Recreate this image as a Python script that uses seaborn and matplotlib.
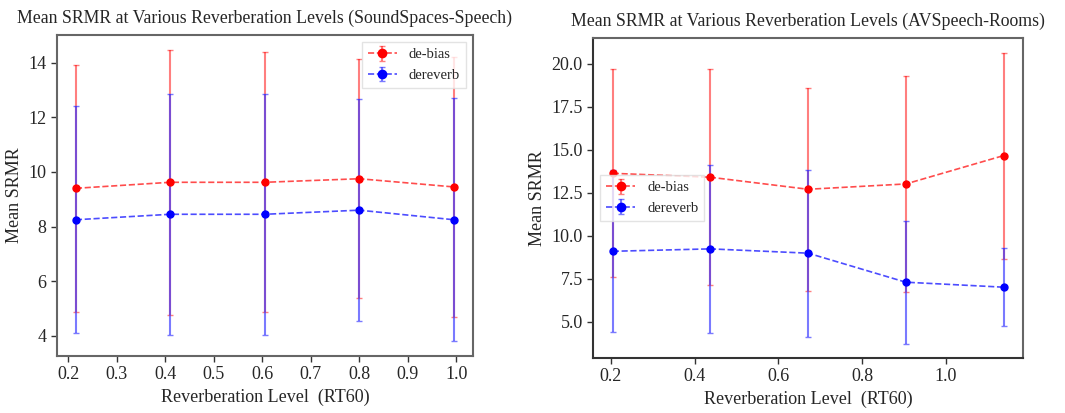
import matplotlib
matplotlib.use("Agg")
import matplotlib.pyplot as plt
import seaborn as sns
import pandas as pd

# SoundSpaces-Speech
ss_rt60 = [0.216, 0.41, 0.605, 0.80, 0.995]
ss_debias_mean = [9.40, 9.62, 9.62, 9.75, 9.45]
ss_debias_std = [4.52, 4.85, 4.75, 4.37, 4.75]
ss_dereverb_mean = [8.25, 8.45, 8.45, 8.60, 8.25]
ss_dereverb_std = [4.15, 4.40, 4.40, 4.07, 4.45]

# AVSpeech-Rooms
av_rt60 = [0.205, 0.438, 0.671, 0.904, 1.137]
av_debias_mean = [13.63, 13.40, 12.70, 13.01, 14.66]
av_debias_std = [6.05, 6.30, 5.92, 6.30, 6.00]
av_dereverb_mean = [9.09, 9.23, 8.98, 7.29, 7.00]
av_dereverb_std = [4.72, 4.88, 4.87, 3.57, 2.26]

titles = ["Mean SRMR at Various Reverberation Levels (SoundSpaces-Speech)",
          "Mean SRMR at Various Reverberation Levels (AVSpeech-Rooms)"]

sns.set_theme(style="ticks")
plt.rcParams["font.family"] = ["Liberation Serif", "DejaVu Serif"]

fig = plt.figure(figsize=(10.65, 4.13), dpi=100)
ax1 = fig.add_axes([0.0535, 0.138, 0.3905, 0.777])
ax2 = fig.add_axes([0.557, 0.133, 0.4036, 0.775])


def draw(ax, x, m1, s1, m2, s2, title, legend_loc):
    df = pd.DataFrame({"rt60": x, "debias": m1, "debias_std": s1,
                       "dereverb": m2, "dereverb_std": s2})
    ax.errorbar(df["rt60"], df["debias"], yerr=df["debias_std"], fmt="o--",
                color=(1, 0, 0, 0.7), mfc="red", mec="red",
                ecolor=(1, 0, 0, 0.5), elinewidth=1.5, capsize=2.5,
                markersize=5, linewidth=1.2, label="de-bias")
    ax.errorbar(df["rt60"], df["dereverb"], yerr=df["dereverb_std"], fmt="o--",
                color=(0, 0, 1, 0.7), mfc="blue", mec="blue",
                ecolor=(0.2, 0.2, 1, 0.65), elinewidth=1.5, capsize=2.5,
                markersize=5, linewidth=1.2, label="dereverb")
    ax.set_title(title, fontsize=12.8, pad=9)
    ax.set_xlabel("Reverberation Level  (RT60)", fontsize=13)
    ax.set_ylabel("Mean SRMR", fontsize=13)
    ax.tick_params(labelsize=13, length=4, width=1, color="#333333")
    for sp in ax.spines.values():
        sp.set_color("#666666")
        sp.set_linewidth(1.5)
    ax.legend(loc=legend_loc, fontsize=10.5, frameon=True, fancybox=False,
              edgecolor="#dddddd", handlelength=2.0, markerscale=1.2)


draw(ax1, ss_rt60, ss_debias_mean, ss_debias_std, ss_dereverb_mean, ss_dereverb_std,
     titles[0], "upper right")
ax1.set_xticks([0.2, 0.3, 0.4, 0.5, 0.6, 0.7, 0.8, 0.9, 1.0])

draw(ax2, av_rt60, av_debias_mean, av_debias_std, av_dereverb_mean, av_dereverb_std,
     titles[1], "center left")
ax2.set_xticks([0.2, 0.4, 0.6, 0.8, 1.0])
ax2.set_yticks([5.0, 7.5, 10.0, 12.5, 15.0, 17.5, 20.0])
ax2.spines["left"].set_color("#333333")
ax2.spines["bottom"].set_color("#333333")

fig.savefig("out.png", dpi=100)
